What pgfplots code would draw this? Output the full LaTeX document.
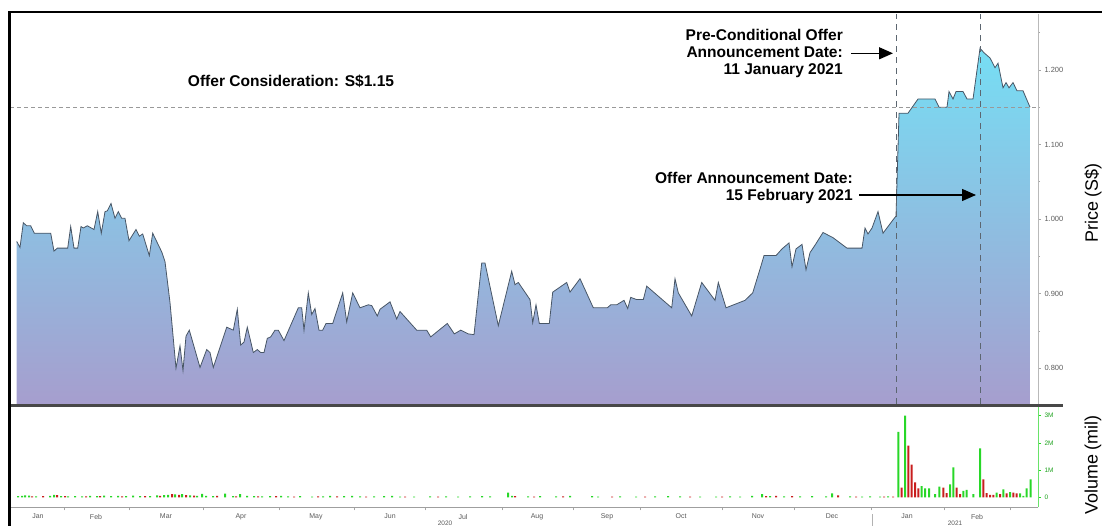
\documentclass[border=0pt]{standalone}
\usepackage{pgfplots}
\pgfplotsset{compat=1.18}
\usepackage{pgfplotstable}
\usepackage{fontspec}
\setmainfont{Liberation Sans}
\usetikzlibrary{arrows.meta}
\definecolor{fillTop}{RGB}{118,222,244}
\definecolor{fillMid}{RGB}{140,188,222}
\definecolor{fillBot}{RGB}{166,158,206}
\definecolor{lineC}{RGB}{72,86,102}
\definecolor{vgreen}{RGB}{40,215,40}
\definecolor{vred}{RGB}{200,30,30}
\definecolor{tickgray}{RGB}{90,90,90}
\definecolor{dashblue}{RGB}{92,102,112}
\definecolor{darkline}{RGB}{72,72,72}

\pgfplotstableread{
x y
16.7 0.752
16.7 0.970
20 0.962
23.3 0.995
26.7 0.991
30.7 0.991
34.3 0.981
50.7 0.981
54 0.957
57.3 0.961
67.7 0.961
70.7 0.990
74 0.961
77.7 0.961
81 0.990
83.3 0.988
87.3 0.991
94 0.986
97.7 1.010
101.3 0.981
105 1.010
107.3 1.011
111 1.021
115 1.001
118.3 1.010
121.7 1.001
125 1.001
129 0.971
136 0.986
139.3 0.977
142.7 0.980
149.3 0.951
152.7 0.981
161.7 0.956
165 0.943
170 0.888
176 0.800
180 0.830
183 0.797
186 0.843
189.3 0.851
200 0.801
206.7 0.825
210 0.821
213.3 0.801
226.7 0.855
233.3 0.851
237.3 0.879
240.7 0.831
244 0.835
247.3 0.855
253.3 0.821
257.3 0.825
260.7 0.821
264 0.821
267.3 0.840
270.7 0.842
275 0.851
278.3 0.851
284 0.837
298.3 0.881
301.7 0.881
304 0.851
308.3 0.901
311.7 0.872
315 0.880
319 0.851
322.7 0.851
326 0.860
332.7 0.860
342.7 0.901
346.7 0.862
352.7 0.901
360 0.881
368.3 0.885
371.7 0.884
377.3 0.870
380 0.879
390 0.889
396.7 0.866
400 0.876
416.7 0.851
426.7 0.851
430.7 0.842
447.3 0.860
454.3 0.846
460.7 0.851
468.3 0.846
474 0.845
481.7 0.941
485 0.941
498.3 0.857
511.7 0.930
515 0.912
518.3 0.915
530 0.892
532.7 0.861
536 0.885
539.3 0.860
549.3 0.860
552.7 0.902
566.7 0.915
570 0.902
580 0.920
593.3 0.881
607.3 0.881
610.7 0.885
616.7 0.885
624 0.891
627.7 0.880
630.7 0.895
636.7 0.892
643.3 0.892
646.7 0.910
671.7 0.881
675 0.920
678.3 0.901
691.7 0.870
701.7 0.915
715 0.891
718.3 0.915
726 0.881
745 0.891
752.7 0.901
760.7 0.936
764 0.951
776 0.951
782 0.960
789 0.968
792 0.936
796 0.960
802 0.966
806 0.932
810 0.955
815 0.965
823 0.982
833 0.975
847 0.961
862 0.961
865 0.988
868 0.980
872 0.988
878 1.010
883 0.981
888 0.990
893 0.999
896 1.004
899 1.142
908 1.142
918 1.161
935 1.161
939 1.150
947 1.150
949 1.171
953 1.161
956 1.171
963 1.171
967 1.161
973 1.161
980 1.229
984 1.223
990 1.216
995 1.203
998 1.209
1003 1.176
1006 1.183
1009 1.176
1013 1.183
1017 1.172
1023 1.172
1030 1.150
1030 0.752
}\pricedata

\pgfplotstableread{
x v
18 0.05
22 0.06
25 0.08
29 0.07
36 0.04
50 0.06
54 0.10
61 0.05
68 0.04
75 0.05
82 0.04
90 0.06
97 0.05
104 0.07
111 0.05
118 0.06
126 0.05
133 0.07
140 0.05
150 0.05
157 0.08
164 0.09
168 0.10
175 0.11
182 0.12
190 0.08
197 0.06
202 0.13
206 0.06
213 0.05
225 0.14
233 0.05
240 0.12
247 0.06
254 0.05
262 0.04
270 0.05
281 0.06
288 0.04
300 0.05
312 0.03
323 0.04
330 0.06
344 0.05
352 0.06
360 0.04
374 0.04
384 0.05
392 0.06
400 0.03
414 0.03
430 0.04
446 0.04
458 0.03
470 0.04
482 0.05
490 0.04
508 0.18
512 0.06
528 0.04
540 0.05
556 0.04
570 0.06
592 0.05
598 0.03
620 0.04
636 0.03
655 0.04
668 0.05
680 0.04
700 0.03
716 0.03
730 0.04
740 0.03
752 0.06
762 0.12
770 0.05
784 0.04
800 0.04
812 0.05
826 0.04
832 0.15
850 0.04
862 0.03
870 0.04
880 0.03
888 0.04
898.3 2.40
905 3.00
921.7 0.42
925 0.33
929 0.33
935 0.12
939.3 0.40
950 0.48
953.3 1.10
963.3 0.24
966.7 0.28
973.3 0.12
980 1.80
996.7 0.18
1003.3 0.30
1010 0.20
1020 0.15
1023.3 0.06
1026.7 0.33
1030.7 0.66
}\volgreen

\pgfplotstableread{
x v
32 0.04
43 0.05
57 0.09
65 0.05
86 0.04
100 0.05
122 0.04
145 0.05
160 0.06
172 0.12
179 0.10
186 0.09
194 0.07
217 0.06
236 0.04
258 0.04
276 0.05
294 0.03
318 0.04
337 0.04
366 0.03
405 0.03
438 0.03
515 0.05
534 0.03
563 0.04
612 0.03
645 0.03
690 0.03
722 0.03
766 0.05
776 0.06
792 0.05
838 0.08
856 0.03
884 0.03
893 0.03
901.7 0.36
908.3 1.90
911.7 1.20
915 0.55
918.3 0.33
943.3 0.36
946.7 0.16
956.7 0.36
960 0.12
983.3 0.66
986.7 0.16
990 0.10
993.3 0.10
1000 0.12
1006.7 0.15
1013.3 0.18
1016.7 0.15
}\volred

\begin{document}
\begin{tikzpicture}[x=1bp,y=1bp]
\useasboundingbox (0,0) rectangle (1102,526);

% ---------- price panel ----------
\begin{axis}[
  at={(10bp,122bp)}, anchor=south west,
  width=1028bp, height=390bp, scale only axis,
  xmin=10, xmax=1038, ymin=0.752, ymax=1.275,
  axis line style={draw=none}, clip=false,
  xtick=\empty,
  ytick pos=right, yticklabel pos=right,
  ytick={0.8,0.9,1.0,1.1,1.2},
  minor ytick={0.85,0.95,1.05,1.15,1.25},
  tick align=outside,
  major tick length=3bp, minor tick length=2bp,
  tick style={draw=gray!70, line width=0.6bp},
  yticklabel style={font=\fontsize{7.5}{8}\selectfont, text=tickgray,
    /pgf/number format/fixed, /pgf/number format/fixed zerofill,
    /pgf/number format/precision=3, /pgf/number format/assume math mode=true},
]
\addplot[draw=none, top color=fillTop, middle color=fillMid, bottom color=fillBot] table[x=x,y=y] {\pricedata};
\addplot[lineC, line width=0.8bp, restrict y to domain=0.76:1.3] table[x=x,y=y] {\pricedata};
\draw[gray!80, dash pattern=on 4bp off 3bp, line width=0.8bp] (axis cs:10,1.15) -- (axis cs:1038,1.15);
\draw[dashblue, dash pattern=on 6bp off 5bp, line width=0.8bp] (axis cs:896,0.752) -- (axis cs:896,1.275);
\draw[dashblue, dash pattern=on 6bp off 5bp, line width=0.8bp] (axis cs:980,0.752) -- (axis cs:980,1.275);
\draw[gray!55, line width=0.7bp] (rel axis cs:1,0) -- (rel axis cs:1,1);
\end{axis}

% ---------- volume panel ----------
\begin{axis}[
  at={(10bp,18.5bp)}, anchor=south west,
  width=1028bp, height=101.5bp, scale only axis,
  xmin=10, xmax=1038, ymin=-0.366, ymax=3.35,
  axis line style={draw=none}, clip=false,
  ytick pos=right, yticklabel pos=right,
  xtick pos=left, xticklabel pos=left,
  ytick={0,1,2,3}, yticklabels={0,1M,2M,3M},
  yticklabel style={font=\fontsize{6.5}{7}\selectfont, text=vgreen!75!black},
  ytick style={draw=vgreen, line width=0.6bp},
  xtick={64,129,203,279,354,425,502,573,640,722,794,871,944,1010},
  xticklabels={},
  xtick style={draw=gray!70, line width=0.6bp},
  tick align=outside, major tick length=3bp,
  extra x ticks={38,96,166,241,316,390,463,537,607,681,758,832,907,977},
  extra x tick labels={Jan,Feb,Mar,Apr,May,Jun,Jul,Aug,Sep,Oct,Nov,Dec,Jan,Feb},
  extra x tick style={major tick length=0pt,
    xticklabel style={font=\fontsize{7}{8}\selectfont, text=tickgray, yshift=-3bp}},
]
\addplot[ybar, bar width=2bp, bar shift=0pt, fill=vgreen, draw=none] table[x=x,y=v] {\volgreen};
\addplot[ybar, bar width=2bp, bar shift=0pt, fill=vred, draw=none] table[x=x,y=v] {\volred};
\draw[gray!75, line width=0.8bp] (rel axis cs:0,0) -- (rel axis cs:1,0);
\draw[vgreen!70, line width=0.6bp] (rel axis cs:1,0) -- (rel axis cs:1,1);
\end{axis}

% ---------- frame, separators, annotations ----------
\draw[darkline, line width=3bp] (10,120.5) -- (1063,120.5);
\draw[black, line width=2.6bp] (9.6,0) -- (9.6,514) -- (1102,514);
\draw[gray!60, line width=0.6bp] (872,0) -- (872,12);
\node[font=\fontsize{6.5}{7}\selectfont, text=tickgray] at (445,2.5) {2020};
\node[font=\fontsize{6.5}{7}\selectfont, text=tickgray] at (955,2.5) {2021};

\node[rotate=90, font=\fontsize{18}{20}\selectfont, inner sep=0] at (1093,323) {Price (S\$)};
\node[rotate=90, font=\fontsize{18}{20}\selectfont, inner sep=0] at (1093,61) {Volume (mil)};

\node[anchor=base, inner sep=0, font=\bfseries\fontsize{15.6}{18}\selectfont] at (291,439.3) {Offer Consideration: S\$1.15};

\node[anchor=base east, inner sep=0, font=\bfseries\fontsize{15.6}{18}\selectfont] at (843,485.5) {Pre-Conditional Offer};
\node[anchor=base east, inner sep=0, font=\bfseries\fontsize{15.6}{18}\selectfont] at (843,468.5) {Announcement Date:};
\node[anchor=base east, inner sep=0, font=\bfseries\fontsize{15.6}{18}\selectfont] at (843,451.5) {11 January 2021};
\draw[line width=1.3bp, -{Triangle[length=14bp,width=12bp]}] (851,472.7) -- (893,472.7);

\node[anchor=base east, inner sep=0, font=\bfseries\fontsize{15.6}{18}\selectfont] at (853,342.7) {Offer Announcement Date:};
\node[anchor=base east, inner sep=0, font=\bfseries\fontsize{15.6}{18}\selectfont] at (853,325) {15 February 2021};
\draw[line width=1.3bp, -{Triangle[length=14bp,width=12bp]}] (859,331) -- (976,331);
\end{tikzpicture}
\end{document}
